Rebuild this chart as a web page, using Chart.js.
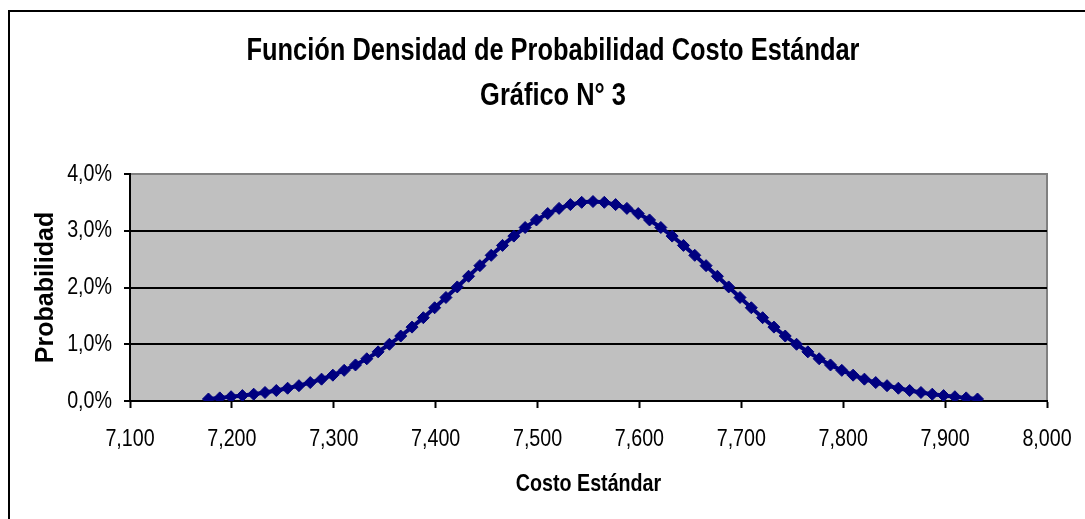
<!DOCTYPE html>
<html>
<head>
<meta charset="utf-8">
<script src="https://cdn.jsdelivr.net/npm/chart.js@4.4.1/dist/chart.umd.min.js"></script>
<style>
  body { margin: 0; background: #fff; }
  canvas { display: block; }
</style>
</head>
<body>
<canvas id="densidadChart" width="1085" height="519"></canvas>
<script>
// datos
let costo = [
  7177.0, 7188.1, 7199.2, 7210.3, 7221.4, 7232.5, 7243.6, 7254.7, 7265.8, 7276.9,
  7288.0, 7299.1, 7310.2, 7321.3, 7332.4, 7343.5, 7354.6, 7365.7, 7376.8, 7387.9,
  7399.0, 7410.1, 7421.2, 7432.3, 7443.4, 7454.5, 7465.6, 7476.7, 7487.8, 7498.9,
  7510.0, 7521.1, 7532.2, 7543.3, 7554.4, 7565.5, 7576.6, 7587.7, 7598.8, 7609.9,
  7621.0, 7632.1, 7643.2, 7654.3, 7665.4, 7676.5, 7687.6, 7698.7, 7709.8, 7720.9,
  7732.0, 7743.1, 7754.2, 7765.3, 7776.4, 7787.5, 7798.6, 7809.7, 7820.8, 7831.9,
  7843.0, 7854.1, 7865.2, 7876.3, 7887.4, 7898.5, 7909.6, 7920.7, 7931.8
];
let probabilidad = [
  0.035, 0.055, 0.075, 0.095, 0.120, 0.150, 0.185, 0.225, 0.270, 0.325,
  0.385, 0.455, 0.540, 0.635, 0.744, 0.866, 1.000, 1.145, 1.302, 1.468,
  1.643, 1.824, 2.010, 2.198, 2.385, 2.567, 2.742, 2.906, 3.057, 3.190,
  3.303, 3.394, 3.461, 3.501, 3.515, 3.501, 3.461, 3.394, 3.303, 3.190,
  3.057, 2.906, 2.742, 2.567, 2.385, 2.198, 2.010, 1.824, 1.643, 1.468,
  1.302, 1.145, 1.000, 0.866, 0.744, 0.635, 0.540, 0.455, 0.385, 0.325,
  0.270, 0.225, 0.185, 0.150, 0.120, 0.095, 0.075, 0.055, 0.035
];
let tituloLineas = ['Función Densidad de Probabilidad Costo Estándar', 'Gráfico N° 3'];
let tituloX = 'Costo Estándar';
let tituloY = 'Probabilidad';

const FUENTE = "'Liberation Sans', Arial, sans-serif";
const ANGOSTO = 0.82;   // el original usa una letra estrecha

function formatoMiles(v){
    return Math.round(v).toString().replace(/\B(?=(\d{3})+(?!\d))/g, ',');
}

// estrecha los textos horizontales (no hay fuente narrow instalada)
const angostoPlugin = {
    id: 'angosto',
    beforeInit(chart){
        const c = chart.ctx;
        const original = c.fillText;
        c.fillText = function(t, x, y, mw){
            if (t === tituloY) return original.call(c, t, x, y, mw);
            let w = c.measureText(t).width * ANGOSTO;
            if (mw !== undefined) w = Math.min(w, mw);
            return original.call(c, t, x, y, w);
        };
    }
};

// fondo blanco, marco y area gris del grafico
const fondoPlugin = {
    id: 'fondo',
    beforeDraw(chart){
        const c = chart.ctx, a = chart.chartArea;
        c.save();
        c.fillStyle = '#fff';
        c.fillRect(0, 0, chart.width, chart.height);
        c.fillStyle = '#c0c0c0';
        c.fillRect(a.left, a.top, a.right - a.left, a.bottom - a.top);
        c.strokeStyle = '#808080';
        c.lineWidth = 2;
        c.strokeRect(a.left, a.top, a.right - a.left, a.bottom - a.top);
        c.strokeStyle = '#000';
        c.beginPath();
        c.moveTo(9, chart.height);
        c.lineTo(9, 11);
        c.lineTo(chart.width, 11);
        c.stroke();
        c.restore();
    },
    afterDraw(chart){
        const c = chart.ctx;
        c.save();
        c.fillStyle = '#000';
        c.textAlign = 'center';
        c.textBaseline = 'alphabetic';
        c.font = 'bold 31px ' + FUENTE;
        c.fillText(tituloLineas[0], 553, 60);
        c.fillText(tituloLineas[1], 553, 105);
        c.restore();
    }
};

let ctx1 = document.getElementById('densidadChart');
let puntos = costo.map((x, i) => ({x: x, y: probabilidad[i]}));

new Chart(ctx1, {
    type: 'line',
    data: {
        datasets: [{
            label: tituloY,
            data: puntos,
            borderColor: '#000080',
            backgroundColor: '#000080',
            borderWidth: 4,
            pointStyle: 'rectRot',
            pointRadius: 6,
            pointBackgroundColor: '#000080',
            pointBorderColor: '#000080',
            pointBorderWidth: 1,
            tension: 0,
            fill: false
        }]
    },
    options: {
        responsive: false,
        animation: false,
        layout: { padding: { top: 174, right: 38, bottom: 0, left: 0 } },
        plugins: {
            legend: { display: false },
            title: { display: false },
            tooltip: { enabled: false }
        },
        scales: {
            x: {
                type: 'linear',
                min: 7100,
                max: 8000,
                afterFit(s){
                    s.height = 118;
                    s.paddingLeft = 0;
                    s.paddingRight = 0;
                },
                ticks: {
                    stepSize: 100,
                    padding: 17,
                    color: '#000',
                    font: { family: FUENTE, size: 24 },
                    maxRotation: 0,
                    callback: (v) => formatoMiles(v)
                },
                grid: {
                    drawOnChartArea: false,
                    drawTicks: true,
                    tickLength: 7,
                    tickColor: '#000',
                    tickWidth: 2
                },
                border: { color: '#000', width: 2 },
                title: {
                    display: true,
                    text: tituloX,
                    color: '#000',
                    font: { family: FUENTE, size: 24, weight: 'bold' },
                    padding: { top: 0, bottom: 20 }
                }
            },
            y: {
                min: 0,
                max: 4,
                afterFit(s){ s.width = 130; },
                ticks: {
                    stepSize: 1,
                    padding: 12,
                    color: '#000',
                    font: { family: FUENTE, size: 24 },
                    callback: (v) => v.toFixed(1).replace('.', ',') + '%'
                },
                grid: {
                    color: (c) => c.tick && c.tick.value === 4 ? '#808080' : '#000',
                    lineWidth: 2,
                    tickLength: 6,
                    tickColor: '#000',
                    tickWidth: 2
                },
                border: { color: '#000', width: 2 },
                title: {
                    display: true,
                    text: tituloY,
                    color: '#000',
                    font: { family: FUENTE, size: 25, weight: 'bold' },
                    padding: { top: 31, bottom: 0 }
                }
            }
        }
    },
    plugins: [angostoPlugin, fondoPlugin]
});
</script>
</body>
</html>
